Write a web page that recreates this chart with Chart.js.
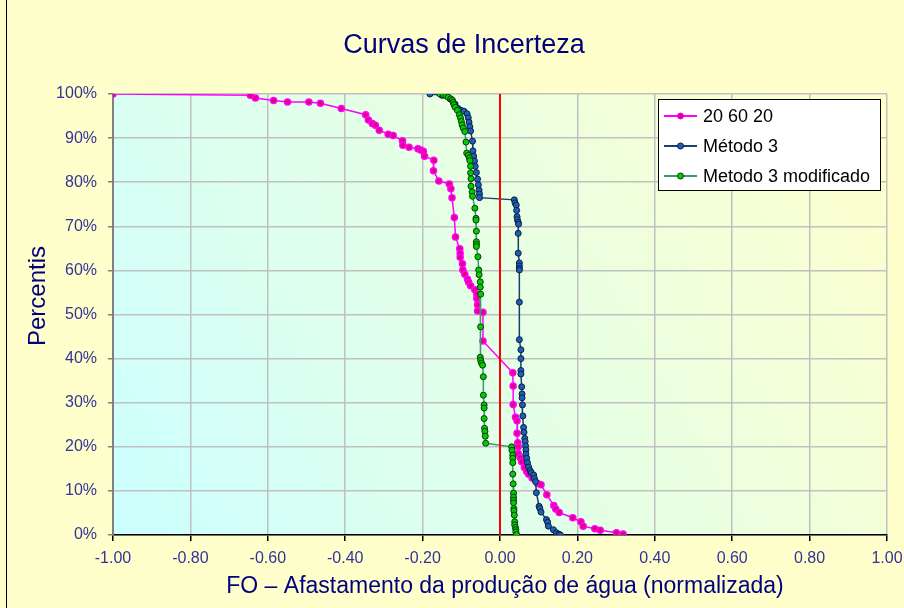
<!DOCTYPE html>
<html lang="pt">
<head>
  <meta charset="UTF-8">
  <title>Curvas de Incerteza</title>
  <script src="https://cdn.jsdelivr.net/npm/chart.js"></script>
  <style>
    html, body {
      margin: 0;
      padding: 0;
      overflow: hidden;
      background: #ffffcc;
    }
    #wrap {
      position: absolute;
      left: 6px;
      top: 0;
      width: 930px;
      height: 608px;
      border-left: 1px solid #000;
    }
    canvas { position: absolute; left: -7px; top: 0; }
  </style>
</head>
<body>
  <div id="wrap"><canvas id="curvas" width="940" height="608"></canvas></div>

  <script>
    // eixo x: -1.00 .. 1.00, eixo y: 0% .. 100%
    const xMin = -1, xMax = 1, xStep = 0.2;
    const yMin = 0, yMax = 100, yStep = 10;

    // 20 60 20
    const s206020X = [-1.000, -0.645, -0.632, -0.585, -0.549, -0.494, -0.464, -0.410, -0.347, -0.340,
      -0.330, -0.322, -0.312, -0.289, -0.276, -0.252, -0.251, -0.235, -0.212, -0.205,
      -0.198, -0.195, -0.171, -0.172, -0.158, -0.131, -0.127, -0.124, -0.118, -0.115,
      -0.104, -0.103, -0.103, -0.097, -0.096, -0.091, -0.084, -0.081, -0.076, -0.065,
      -0.060, -0.060, -0.058, -0.058, -0.044, -0.044, 0.033, 0.034, 0.034, 0.040,
      0.044, 0.044, 0.046, 0.047, 0.047, 0.052, 0.056, 0.063, 0.069, 0.074,
      0.083, 0.097, 0.106, 0.121, 0.139, 0.144, 0.153, 0.188, 0.209, 0.215,
      0.245, 0.259, 0.301, 0.318];
    const s206020Y = [100.0, 99.7, 99.1, 98.5, 98.2, 98.2, 97.9, 96.7, 95.3, 94.1,
      93.3, 92.9, 91.8, 90.9, 90.6, 89.4, 88.4, 87.9, 87.6, 87.3,
      87.0, 85.9, 85.0, 82.6, 80.3, 79.6, 78.5, 76.5, 72.0, 67.6,
      64.9, 63.9, 63.0, 61.5, 60.1, 59.1, 58.0, 57.3, 56.5, 55.6,
      54.6, 53.6, 52.2, 50.8, 50.5, 44.0, 36.8, 33.8, 29.6, 26.7,
      25.9, 23.1, 20.9, 20.0, 18.5, 17.5, 16.6, 15.3, 14.4, 13.8,
      12.9, 11.7, 11.4, 9.1, 6.7, 5.9, 5.1, 3.9, 3.0, 2.0,
      1.4, 1.1, 0.5, 0.2];

    // Método 3
    const metodo3X = [-0.181, -0.150, -0.129, -0.116, -0.108, -0.101, -0.093, -0.085, -0.082, -0.080,
      -0.078, -0.076, -0.071, -0.070, -0.068, -0.066, -0.064, -0.061, -0.058, -0.056,
      -0.054, -0.053, -0.053, 0.037, 0.039, 0.042, 0.043, 0.044, 0.045, 0.047,
      0.048, 0.047, 0.047, 0.050, 0.050, 0.050, 0.050, 0.050, 0.050, 0.054,
      0.054, 0.054, 0.054, 0.056, 0.057, 0.057, 0.058, 0.059, 0.061, 0.062,
      0.064, 0.065, 0.066, 0.067, 0.067, 0.069, 0.071, 0.074, 0.078, 0.081,
      0.087, 0.089, 0.092, 0.094, 0.101, 0.103, 0.106, 0.120, 0.123, 0.125,
      0.138, 0.146, 0.152, 0.156];
    const metodo3Y = [100.0, 99.7, 98.9, 97.7, 96.7, 96.3, 96.1, 95.5, 94.6, 93.6,
      92.6, 91.6, 89.3, 87.1, 85.9, 84.8, 83.6, 82.2, 80.7, 79.4,
      78.2, 77.3, 76.5, 76.0, 75.3, 74.8, 73.6, 72.2, 71.5, 70.9,
      70.5, 68.4, 63.9, 61.7, 61.0, 60.4, 60.1, 52.8, 44.3, 42.0,
      40.0, 37.3, 36.5, 33.6, 32.0, 31.1, 29.5, 27.0, 24.4, 23.3,
      21.9, 21.2, 20.2, 19.3, 18.3, 17.4, 16.4, 15.4, 14.6, 14.1,
      13.6, 12.8, 12.1, 9.6, 6.5, 6.0, 5.2, 3.5, 2.9, 2.0,
      1.2, 0.5, 0.2, 0.0];

    // Metodo 3 modificado
    const metodo3modX = [-0.155, -0.147, -0.140, -0.134, -0.127, -0.123, -0.121, -0.119, -0.116, -0.110,
      -0.105, -0.102, -0.100, -0.098, -0.095, -0.091, -0.088, -0.086, -0.082, -0.079,
      -0.078, -0.076, -0.076, -0.075, -0.075, -0.072, -0.071, -0.065, -0.062, -0.062,
      -0.061, -0.061, -0.061, -0.061, -0.057, -0.055, -0.054, -0.051, -0.051, -0.050,
      -0.050, -0.051, -0.050, -0.048, -0.045, -0.043, -0.043, -0.041, -0.041, -0.041,
      -0.040, -0.039, -0.038, -0.037, 0.030, 0.031, 0.033, 0.033, 0.033, 0.033,
      0.034, 0.035, 0.035, 0.035, 0.035, 0.036, 0.036, 0.037, 0.038, 0.038,
      0.040, 0.041, 0.041, 0.043];
    const metodo3modY = [100.0, 99.8, 99.6, 99.3, 98.9, 98.6, 98.1, 97.6, 97.0, 96.3,
      95.3, 94.6, 93.8, 93.0, 92.3, 91.5, 89.1, 86.6, 86.1, 85.5,
      84.9, 83.6, 82.1, 80.8, 79.1, 77.8, 76.8, 74.1, 71.8, 71.4,
      68.9, 66.5, 65.9, 65.4, 63.1, 60.1, 59.0, 57.4, 56.2, 54.6,
      47.2, 40.3, 39.6, 39.0, 38.5, 35.9, 31.7, 29.5, 28.8, 26.4,
      24.2, 23.5, 22.4, 20.8, 20.0, 19.2, 18.1, 17.4, 16.4, 13.8,
      11.6, 9.5, 8.6, 7.9, 7.3, 6.0, 5.5, 4.5, 3.0, 2.3,
      1.7, 1.2, 0.7, 0.1];

    // linha vermelha em x = 0
    const refX = [0, 0];
    const refY = [0, 100];

    const toPoints = (xs, ys) => xs.map((x, i) => ({ x: x, y: ys[i] }));

    const fundoPlugin = {
      id: 'fundo',
      beforeDraw(chart) {
        const { ctx, chartArea: a } = chart;
        const g = ctx.createLinearGradient(a.left, a.bottom, a.right, a.top);
        g.addColorStop(0, '#ccffff');
        g.addColorStop(1, '#ffffcc');
        ctx.save();
        ctx.fillStyle = g;
        ctx.fillRect(a.left, a.top, a.right - a.left, a.bottom - a.top);
        ctx.restore();
      }
    };

    const textosPlugin = {
      id: 'textos',
      afterDraw(chart) {
        const ctx = chart.ctx;
        ctx.save();
        ctx.textAlign = 'center';
        ctx.textBaseline = 'middle';
        ctx.fillStyle = '#000080';
        ctx.font = '27px Arial, "Liberation Sans", sans-serif';
        ctx.fillText('Curvas de Incerteza', 464, 46);
        ctx.font = '23px Arial, "Liberation Sans", sans-serif';
        ctx.fillText('FO – Afastamento da produção de água (normalizada)', 505, 587);
        ctx.translate(38, 296);
        ctx.rotate(-Math.PI / 2);
        ctx.font = '24px Arial, "Liberation Sans", sans-serif';
        ctx.fillText('Percentis', 0, 0);
        ctx.restore();

        // legenda
        const bx = 658, by = 99, bw = 222, bh = 91;
        ctx.save();
        ctx.fillStyle = '#ffffff';
        ctx.fillRect(bx, by, bw, bh);
        ctx.strokeStyle = '#000000';
        ctx.lineWidth = 1;
        ctx.strokeRect(bx + 0.5, by + 0.5, bw, bh);
        const itens = chart.data.datasets.filter(d => d.label);
        itens.forEach((d, i) => {
          const y = by + 17 + i * 30;
          ctx.strokeStyle = d.borderColor;
          ctx.lineWidth = 2;
          ctx.beginPath();
          ctx.moveTo(bx + 6, y);
          ctx.lineTo(bx + 39, y);
          ctx.stroke();
          ctx.beginPath();
          ctx.arc(bx + 22.5, y, 3, 0, Math.PI * 2);
          ctx.fillStyle = d.pointBackgroundColor;
          ctx.fill();
          ctx.lineWidth = 1;
          ctx.strokeStyle = d.pointBorderColor;
          ctx.stroke();
          ctx.fillStyle = '#000000';
          ctx.font = '18px Arial, "Liberation Sans", sans-serif';
          ctx.textAlign = 'left';
          ctx.textBaseline = 'middle';
          ctx.fillText(d.label, bx + 45, y + 1);
        });
        ctx.restore();
      }
    };

    const ctx = document.getElementById('curvas').getContext('2d');
    new Chart(ctx, {
      type: 'scatter',
      data: {
        datasets: [
          {
            data: toPoints(refX, refY),
            showLine: true,
            borderColor: '#ff0000',
            borderWidth: 2,
            pointRadius: 0,
            order: -1
          },
          {
            label: '20 60 20',
            data: toPoints(s206020X, s206020Y),
            showLine: true,
            borderColor: '#ff00ff',
            borderWidth: 1.5,
            pointRadius: 3,
            pointBackgroundColor: '#e0007a',
            pointBorderColor: '#ff00ff',
            pointBorderWidth: 1.5,
            order: 3
          },
          {
            label: 'Método 3',
            data: toPoints(metodo3X, metodo3Y),
            showLine: true,
            borderColor: '#1c3d6e',
            borderWidth: 1.5,
            pointRadius: 3,
            pointBackgroundColor: '#1f5fb0',
            pointBorderColor: '#0a1f4a',
            pointBorderWidth: 1,
            order: 2
          },
          {
            label: 'Metodo 3 modificado',
            data: toPoints(metodo3modX, metodo3modY),
            showLine: true,
            borderColor: '#3a9a72',
            borderWidth: 1.5,
            pointRadius: 3,
            pointBackgroundColor: '#00cc00',
            pointBorderColor: '#0a3a0a',
            pointBorderWidth: 1,
            order: 1
          }
        ]
      },
      options: {
        responsive: false,
        animation: false,
        layout: { padding: { top: 94, right: 53, left: 0, bottom: 0 } },
        plugins: {
          legend: { display: false },
          tooltip: { enabled: false }
        },
        scales: {
          x: {
            type: 'linear',
            min: xMin,
            max: xMax,
            afterFit: s => { s.height = 73; },
            ticks: {
              stepSize: xStep,
              padding: 8,
              color: '#333399',
              font: { size: 16, family: 'Arial, "Liberation Sans", sans-serif' },
              callback: v => (Math.abs(v) < 1e-9 ? 0 : v).toFixed(2)
            },
            grid: { color: '#c0c0c0', lineWidth: 1.5, tickLength: 6, tickColor: '#000000' },
            border: { color: '#000000', width: 1.5 }
          },
          y: {
            min: yMin,
            max: yMax,
            afterFit: s => { s.width = 113; },
            ticks: {
              stepSize: yStep,
              padding: 11,
              color: '#333399',
              font: { size: 16, family: 'Arial, "Liberation Sans", sans-serif' },
              callback: v => v + '%'
            },
            grid: { color: '#c0c0c0', lineWidth: 1.5, tickLength: 5, tickColor: '#808080' },
            border: { color: '#808080', width: 2 }
          }
        }
      },
      plugins: [fundoPlugin, textosPlugin]
    });
  </script>
</body>
</html>
